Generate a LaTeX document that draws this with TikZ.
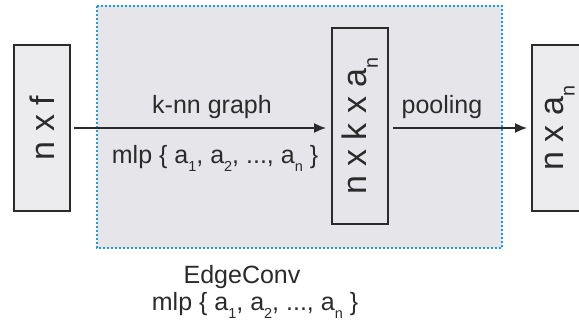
\documentclass[tikz,border=0pt]{standalone}
\usepackage{fontspec}
\setmainfont{Liberation Sans}
\usetikzlibrary{arrows.meta}
\definecolor{boxfill}{HTML}{ECECEE}
\definecolor{convfill}{HTML}{E6E6EA}
\definecolor{convline}{HTML}{1E9BE0}
\definecolor{ink}{HTML}{2B2B2B}
% small, lowered index
\newcommand\lowsub[1]{\raisebox{-0.32em}{\scalebox{0.58}{#1}}}
\tikzset{
  tensor/.style={draw=ink, line width=1.8bp, fill=boxfill, minimum width=56bp,
    inner sep=0pt, font=\fontsize{34bp}{36bp}\selectfont, text=ink},
  lbl/.style={font=\fontsize{25bp}{28bp}\selectfont, text=ink, inner sep=0pt, anchor=base},
  arr/.style={draw=ink, line width=1.8bp, -{Latex[length=12bp,width=10bp]}},
}
\begin{document}
\begin{tikzpicture}[x=1bp,y=-1bp]
\useasboundingbox (0,0) rectangle (579,329);
% EdgeConv region
\fill[convfill] (97,6) rectangle (502,248);
\draw[convline, line width=2.2bp, dash pattern=on 2bp off 2bp] (97,6) rectangle (502,248);
% feature tensors
\node[tensor, minimum height=166bp] (nf) at (42,128) {\rotatebox{90}{n x f}};
\node[tensor, minimum height=196bp, fill=convfill] (nka) at (360,126) {\rotatebox{90}{n x k x a\lowsub{n}}};
\node[tensor, minimum height=166bp] (na) at (560,128) {\rotatebox{90}{n x a\lowsub{n}}};
% connectors
\draw[arr, shorten <=3bp, shorten >=5bp] (nf.east) -- (nf.east -| nka.west);
\draw[arr, shorten <=4bp, shorten >=4bp] (nka.east |- na.west) -- (na.west);
% labels
\node[lbl] (knn) at (212,113) {k-nn graph};
\node[lbl] (mlp) at (215,163) {mlp \{ a\lowsub{1}, a\lowsub{2}, ..., a\lowsub{n} \}};
\node[lbl] (pool) at (442,113) {pooling};
\node[lbl] (ec) at (242,283) {EdgeConv};
\node[lbl] (ecmlp) at (255,310) {mlp \{ a\lowsub{1}, a\lowsub{2}, ..., a\lowsub{n} \}};
\end{tikzpicture}
\end{document}
